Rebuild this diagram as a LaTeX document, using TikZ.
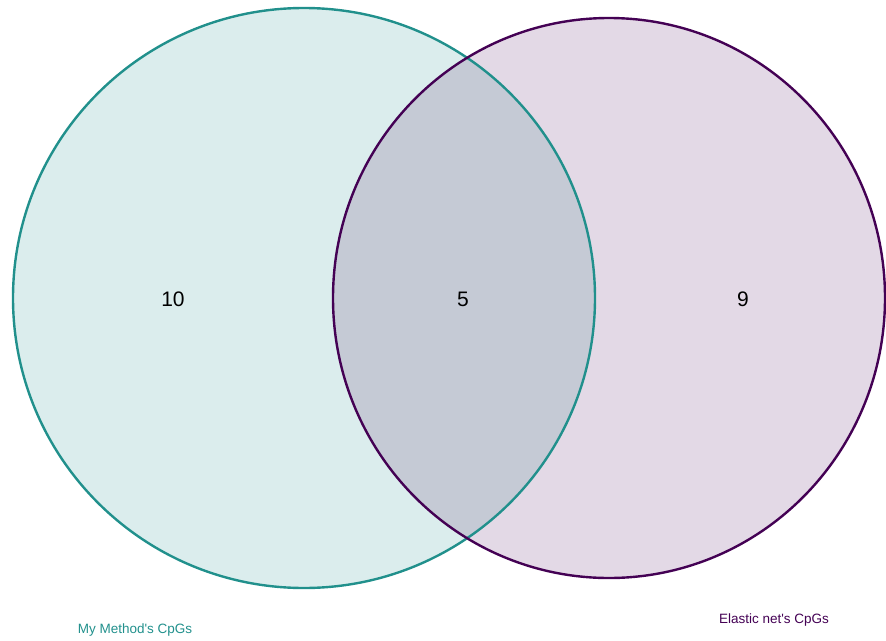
\documentclass[tikz,border=0pt]{standalone}
\usepackage{fontspec}
\setmainfont{Liberation Sans}
\usetikzlibrary{positioning}
\definecolor{tealset}{HTML}{21908C}
\definecolor{purpleset}{HTML}{440154}

\begin{document}
\begin{tikzpicture}[x=1pt, y=-1pt,
  count/.style={font=\fontsize{21}{25}\selectfont},
  setlabel/.style={font=\fontsize{13.5}{16}\selectfont}]
  \useasboundingbox (0,0) rectangle (886,640);
  \coordinate (mine) at (304,298);
  \coordinate (enet) at (609,298);
  \fill[tealset, fill opacity=0.16] (mine) ellipse (291pt and 290pt);
  \fill[purpleset, fill opacity=0.15] (enet) ellipse (276pt and 280pt);
  \draw[tealset, line width=2.4pt] (mine) ellipse (291pt and 290pt);
  \draw[purpleset, line width=2.4pt] (enet) ellipse (276pt and 280pt);
  \node[count] (onlymine) at (173,299) {10};
  \node[count] (both) at (463,299) {5};
  \node[count] (onlyenet) at (743,299) {9};
  \node[setlabel, text=tealset] (minelabel) at (135,630) {My Method\textquotesingle s CpGs};
  \node[setlabel, text=purpleset] (enetlabel) at (774,620) {Elastic net\textquotesingle s CpGs};
\end{tikzpicture}
\end{document}
